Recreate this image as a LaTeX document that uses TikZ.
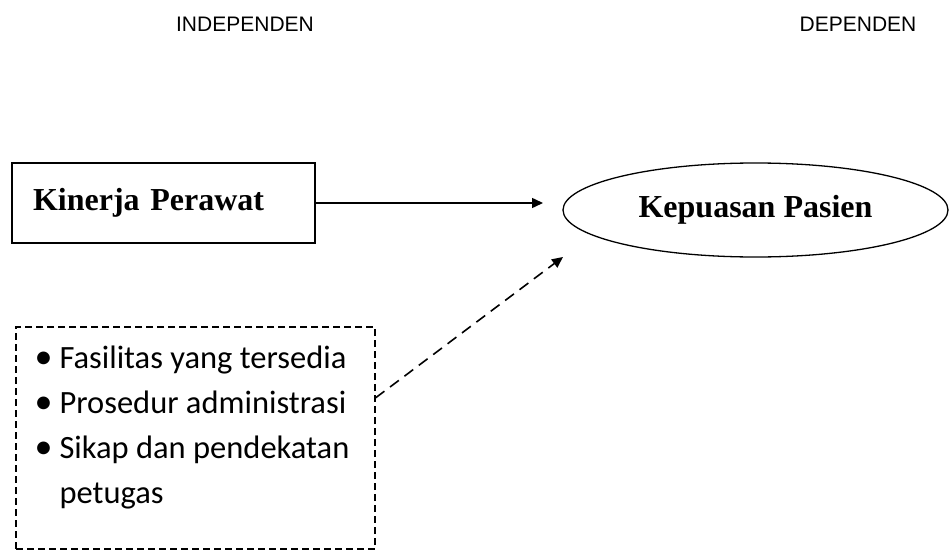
\documentclass[tikz,border=0pt]{standalone}
\usepackage{fontspec}
\setmainfont{Liberation Serif}
\newfontfamily\labelfont{Liberation Sans}
\newfontfamily\listfont{Carlito}
\usetikzlibrary{shapes.geometric,arrows.meta,calc}
\newcommand\itembullet{{\fontsize{36}{45}\selectfont •}}
\tikzset{
  varbox/.style={draw, line width=1.5pt, inner sep=0pt},
  vartext/.style={font=\bfseries\fontsize{32}{38}\selectfont},
  toplabel/.style={font=\labelfont\fontsize{21}{25}\selectfont},
  arr/.style={-{Triangle[length=11pt,width=10pt]}, line width=1.5pt},
}
\begin{document}
\begin{tikzpicture}[x=1pt,y=-1pt]
  \useasboundingbox (0,0) rectangle (950,551);
  % column headings
  \node[toplabel] (indep) at (245,24) {INDEPENDEN};
  \node[toplabel] (dep) at (858,24) {DEPENDEN};
  % variables
  \node[varbox, vartext, minimum width=303pt, minimum height=80pt, inner xsep=21pt, text width=261pt, align=left] (kinerja) at (163.5,203) {Kinerja Perawat};
  \node[varbox, vartext, ellipse, line width=1.3pt, minimum width=385pt, minimum height=94pt] (kepuasan) at (755.5,210) {Kepuasan Pasien};
  \coordinate (tip) at (543,203);
  \draw[arr] (kinerja.east) -- (tip);
  % other factors
  \node[draw, line width=1.3pt, dash pattern=on 7pt off 4pt, minimum width=359pt, minimum height=222pt, inner sep=0pt] (faktor) at (195.5,438) {};
  \node[anchor=base west, inner sep=0pt, font=\listfont\fontsize{32.5}{45}\selectfont] (items) at ($(faktor.north west)+(19,42)$) {%
    \begin{tabular}[t]{@{}p{25pt}@{}l@{}}
      \itembullet & Fasilitas yang tersedia\\
      \itembullet & Prosedur administrasi\\
      \itembullet & Sikap dan pendekatan\\
                  & petugas
    \end{tabular}};
  \coordinate (dtip) at (563,257);
  \draw[arr, line width=1.6pt, dash pattern=on 11pt off 7pt] ($(faktor.south east)!0.68!(faktor.north east)$) -- (dtip);
\end{tikzpicture}
\end{document}
